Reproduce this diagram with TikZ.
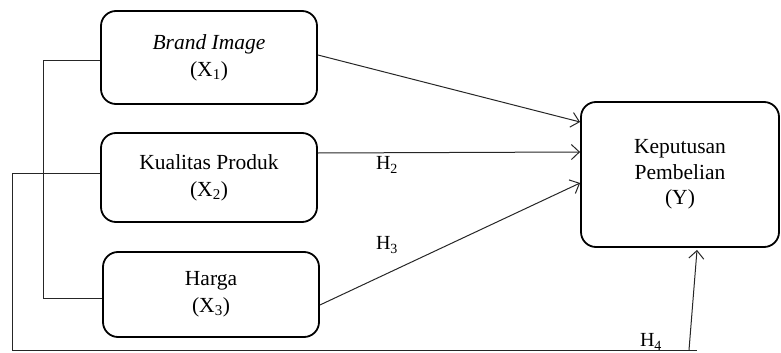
\documentclass[tikz,border=0pt]{standalone}
\usepackage{fontspec}
\setmainfont{Liberation Serif}
\usetikzlibrary{arrows.meta}
\begin{document}
\begin{tikzpicture}[x=1pt,y=-1pt,
  varbox/.style={draw=black,line width=1.8pt,rounded corners=15pt,align=center,
    font=\fontsize{21.5}{27}\selectfont,inner sep=0pt},
  conn/.style={draw=black!85,line width=1pt},
  arr/.style={conn,-{Straight Barb[length=8pt,width=15pt,line width=1pt]}},
  hlab/.style={font=\fontsize{20}{24}\selectfont,inner sep=0pt}]
\useasboundingbox (0,0) rectangle (781,353);
\node[varbox,minimum width=216pt,minimum height=93pt] (X1) at (209,57.5)
  {\textit{Brand Image}\\(X\textsubscript{1})};
\node[varbox,minimum width=216pt,minimum height=89pt] (X2) at (209,177.5)
  {Kualitas Produk\\(X\textsubscript{2})};
\node[varbox,minimum width=216pt,minimum height=85pt] (X3) at (211,294.5)
  {Harga\\(X\textsubscript{3})};
\node[varbox,minimum width=198pt,minimum height=145pt,font=\fontsize{21.5}{25.5}\selectfont] (Y) at (680,174.5)
  {Keputusan\\Pembelian\\(Y)};
% arrows to Y
\draw[arr] ([yshift=2.5pt]X1.east) -- ([yshift=52.5pt]Y.west);
\draw[arr] ([yshift=24.5pt]X2.east) -- ([yshift=22.5pt]Y.west);
\draw[arr] ([yshift=-10.5pt]X3.east) -- ([yshift=-8.5pt]Y.west);
% left bracket
\coordinate (b1) at (43,61);
\coordinate (b3) at (43,298);
\draw[conn] ([yshift=-3.5pt]X1.west) -- (b1) -- (b3) -- ([yshift=-3.5pt]X3.west);
\coordinate (o1) at (12,173);
\coordinate (o2) at (12,350);
\coordinate (o3) at (697,350);
\coordinate (o4) at (689,350);
\draw[conn] (X2.west |- o1) -- (o1) -- (o2) -- (o3);
\draw[arr] (o4) -- ([xshift=17pt,yshift=-2pt]Y.south);
% labels
\node[hlab] (h2) at (387,165) {H\textsubscript{2}};
\node[hlab] (h3) at (387,245) {H\textsubscript{3}};
\node[hlab] (h4) at (651,342) {H\textsubscript{4}};
\end{tikzpicture}
\end{document}
